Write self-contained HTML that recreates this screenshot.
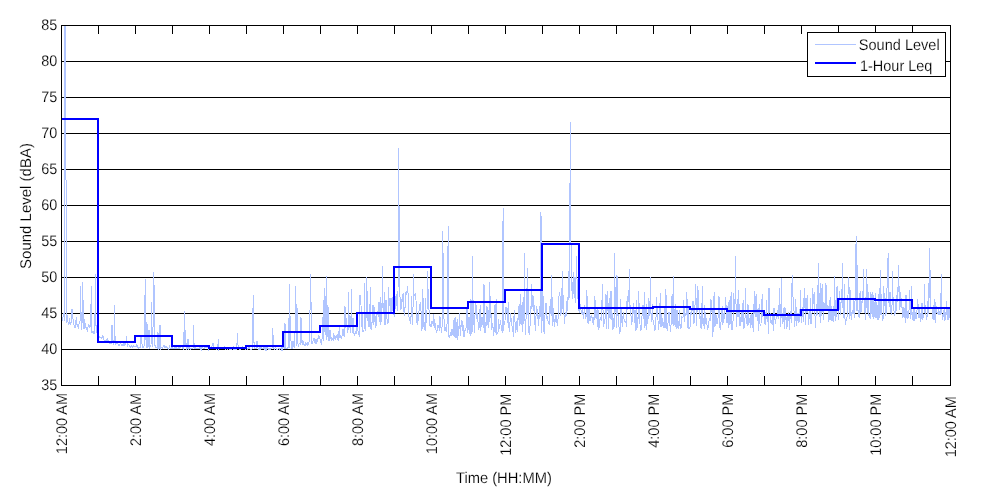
<!DOCTYPE html>
<html><head><meta charset="utf-8"><title>Sound Level</title>
<style>
html,body{margin:0;padding:0;background:#fff;}
body{width:1000px;height:500px;overflow:hidden;}
svg{display:block;}
text{font-family:"Liberation Sans",sans-serif;font-size:15px;fill:#000;text-rendering:geometricPrecision;stroke:#fff;stroke-width:0.16px;}
</style></head><body>
<svg width="1000" height="500" viewBox="0 0 1000 500">
<rect x="0" y="0" width="1000" height="500" fill="#fff"/>
<defs><clipPath id="c"><rect x="61" y="25" width="890" height="361"/></clipPath></defs>
<g fill="#000" shape-rendering="crispEdges"><rect x="61" y="349" width="890" height="1"/><rect x="61" y="313" width="890" height="1"/><rect x="61" y="277" width="890" height="1"/><rect x="61" y="241" width="890" height="1"/><rect x="61" y="205" width="890" height="1"/><rect x="61" y="169" width="890" height="1"/><rect x="61" y="133" width="890" height="1"/><rect x="61" y="97" width="890" height="1"/><rect x="61" y="61" width="890" height="1"/></g>
<g clip-path="url(#c)">
<polyline points="61.5,320.7 62.1,320.6 62.7,318.8 63.4,314.5 64.0,313.3 64.4,320.5 65.0,-30.0 66.7,322.5 67.1,314.6 67.7,321.8 68.3,322.3 68.9,324.9 69.5,318.5 70.1,323.1 70.8,324.3 71.4,320.2 72.0,309.0 72.6,318.7 73.2,319.2 73.8,324.1 74.5,327.6 75.1,327.5 75.7,324.1 76.3,317.1 76.9,324.3 77.6,324.2 78.2,328.7 78.8,325.7 79.4,322.0 80.0,322.3 80.4,286.0 81.3,329.9 81.9,321.8 82.4,282.0 83.1,328.9 83.5,300.0 84.3,328.8 85.0,322.6 85.6,326.7 86.2,327.7 86.8,328.5 87.4,331.7 88.0,327.3 88.7,325.4 89.3,328.4 89.9,325.1 90.5,327.1 91.4,286.0 91.8,333.2 92.4,331.3 93.0,331.2 93.6,333.0 94.2,331.7 94.8,334.4 95.4,274.0 96.1,332.8 96.7,324.8 97.3,329.0 97.9,331.5 98.5,334.5 99.2,336.7 99.8,337.3 100.4,337.3 101.0,338.1 101.6,338.1 102.2,337.4 102.9,334.9 103.5,339.1 104.1,340.0 104.7,340.8 105.3,340.9 106.0,340.9 106.6,340.8 107.2,337.7 107.8,342.1 108.4,341.4 109.0,343.1 109.7,343.7 110.3,343.2 110.9,343.2 111.5,343.0 112.0,325.0 112.7,342.0 113.4,340.8 114.0,345.3 114.4,305.0 115.2,344.9 115.8,344.2 116.4,341.2 117.1,344.1 117.7,343.2 118.3,345.2 118.9,345.1 119.5,345.2 120.1,343.4 120.8,343.6 121.4,344.7 122.0,345.6 122.6,344.8 123.2,345.3 123.9,342.1 124.5,346.3 125.1,341.4 125.7,345.1 126.4,336.0 126.9,342.3 127.6,346.9 128.2,344.7 128.8,344.6 129.4,345.7 130.0,347.2 130.6,347.0 131.3,346.0 131.9,345.4 132.5,347.4 133.1,346.8 133.7,346.0 134.3,346.9 135.0,346.6 135.6,346.8 136.2,346.2 136.8,344.0 137.4,347.2 138.1,347.3 138.7,348.1 139.3,347.4 139.9,347.0 140.5,347.6 141.0,336.0 141.8,342.6 142.4,345.6 143.0,347.8 143.6,346.9 144.2,345.7 144.6,312.0 145.4,279.0 146.1,348.3 147.0,322.0 147.3,347.6 147.9,347.4 148.5,345.7 149.0,330.0 149.8,348.5 150.4,345.4 151.0,345.8 151.4,302.0 152.3,346.8 152.9,344.8 153.4,272.0 154.4,293.0 154.7,345.0 155.3,345.7 156.0,348.2 156.6,347.8 157.2,348.3 158.0,332.0 158.4,349.0 159.0,349.2 159.7,347.0 160.0,325.0 160.9,348.5 161.5,347.4 162.1,347.6 162.7,348.6 163.4,345.7 164.0,344.7 164.6,347.3 165.2,346.7 165.8,347.6 166.5,346.7 167.1,347.6 167.7,348.8 168.3,349.2 168.9,348.6 169.5,345.5 170.2,348.8 170.8,348.8 171.4,348.4 172.0,346.7 172.6,348.9 173.2,348.8 173.9,349.0 174.5,347.2 175.1,348.6 175.7,347.0 176.3,347.9 176.9,348.8 177.6,348.6 178.2,348.3 178.8,345.8 179.4,348.6 180.0,345.9 180.7,347.6 181.3,346.9 181.9,346.6 182.5,348.5 183.1,348.2 183.7,349.0 184.4,311.0 185.0,345.9 185.6,330.0 186.2,349.1 186.8,348.9 187.4,348.8 188.0,339.0 188.7,348.4 189.3,347.1 189.9,348.8 190.5,349.1 191.1,348.6 191.8,348.1 192.4,348.7 193.0,349.2 193.4,325.0 194.2,348.6 194.8,348.0 195.5,347.7 196.1,348.9 196.7,348.7 197.3,348.5 197.9,348.1 198.6,348.5 199.2,347.9 199.8,348.5 200.4,349.4 201.0,346.9 201.6,349.1 202.3,346.9 202.9,347.4 203.5,348.9 204.1,349.1 204.7,348.8 205.3,346.2 206.0,348.2 206.6,346.5 207.2,347.8 207.8,347.3 208.4,349.7 209.0,348.3 209.7,348.9 210.3,347.8 210.9,347.0 211.5,349.2 212.1,345.7 213.0,343.0 213.4,346.4 214.0,349.2 214.6,348.0 215.2,348.5 215.8,348.8 216.5,349.0 217.1,348.6 217.7,349.0 218.4,339.0 218.9,349.3 219.5,348.5 220.2,348.6 220.8,348.2 221.4,347.6 222.0,348.4 222.6,348.9 223.2,348.8 223.9,346.9 224.5,346.6 225.1,349.6 225.7,347.8 226.3,347.8 227.0,349.1 227.6,349.1 228.2,349.0 228.8,348.1 229.4,349.0 230.0,348.0 230.7,349.6 231.3,347.9 231.9,349.4 232.5,348.5 233.1,346.9 233.7,349.4 234.4,349.3 235.0,348.3 235.6,349.4 236.2,348.5 236.8,349.3 237.4,333.0 238.1,347.0 238.7,348.7 239.3,349.3 239.9,349.0 240.5,349.5 241.2,349.1 241.8,347.8 242.4,346.8 243.0,348.7 243.6,348.3 244.2,348.6 244.9,349.0 245.5,349.1 246.1,349.0 246.7,348.1 247.3,349.5 247.9,348.6 248.6,348.3 249.2,346.9 249.8,348.7 250.4,349.7 251.0,348.7 251.6,349.5 252.3,348.0 252.6,322.0 253.4,295.0 254.1,348.6 254.7,348.4 255.4,348.4 256.0,348.8 256.6,347.5 257.0,341.0 257.8,347.8 258.4,349.0 259.1,349.3 259.7,347.8 260.3,348.7 260.9,347.1 261.5,346.2 262.1,349.1 262.8,348.2 263.4,348.7 264.0,346.9 264.6,348.8 265.2,349.7 265.8,346.4 266.5,349.7 267.1,348.9 267.7,347.4 268.3,349.1 268.9,348.2 269.6,349.3 270.2,348.9 270.8,349.1 271.4,348.4 272.0,348.5 272.4,328.0 273.4,340.0 273.9,348.6 274.5,349.5 275.1,347.7 275.7,347.7 276.3,349.0 277.0,349.4 277.6,349.6 278.2,348.8 278.8,348.5 279.4,349.2 280.0,348.4 280.7,348.3 281.3,349.7 281.9,347.0 282.5,349.0 283.1,346.4 283.8,347.3 284.4,349.3 285.0,323.0 285.6,348.6 286.2,349.0 286.8,348.3 287.5,348.5 288.1,347.4 288.7,347.4 289.4,284.0 289.9,348.2 290.4,316.0 291.2,348.5 291.8,342.7 292.4,348.8 293.0,341.3 293.6,345.1 294.2,347.2 294.9,346.8 295.4,286.0 296.4,315.0 296.7,345.8 297.4,308.0 297.9,343.4 298.6,346.7 299.2,343.4 299.8,343.0 300.4,344.7 301.0,317.0 301.7,342.7 302.3,339.7 302.9,345.3 303.5,341.1 304.1,346.0 304.7,344.7 305.4,343.1 306.0,345.4 306.6,344.1 307.2,345.1 307.8,342.2 308.4,344.5 309.1,341.4 309.7,341.1 310.4,274.0 311.0,300.0 311.5,341.2 312.1,344.0 312.8,342.5 313.4,338.0 314.0,338.1 314.6,342.4 315.2,342.9 315.9,339.0 316.5,343.7 317.1,338.1 317.7,341.6 318.3,335.2 318.9,337.9 319.6,335.9 320.2,340.6 320.8,342.1 321.4,343.5 322.0,339.3 322.6,334.4 323.4,300.0 323.9,341.4 324.6,288.0 325.1,335.4 325.6,310.0 326.6,276.0 327.0,339.5 327.4,305.0 328.4,308.0 328.8,340.3 329.4,340.2 330.0,330.0 330.7,336.6 331.3,340.9 331.9,337.3 332.5,339.5 333.1,340.0 333.8,333.4 334.4,338.7 335.0,337.8 335.6,338.9 336.2,335.1 336.8,337.3 337.5,334.5 338.1,340.6 338.7,335.6 339.3,327.5 339.9,338.4 340.5,336.5 341.2,338.4 341.8,336.6 342.4,335.8 343.0,329.2 343.6,334.4 344.3,337.3 345.0,306.0 345.5,328.4 346.0,318.0 346.7,324.8 347.3,326.5 348.0,333.1 348.4,292.0 349.2,327.9 350.0,315.0 350.4,332.8 351.0,327.6 351.4,289.0 352.3,333.3 353.0,318.0 353.5,327.2 354.1,335.5 354.7,333.5 355.4,333.8 356.0,330.9 356.6,333.8 357.2,322.8 357.8,329.6 358.5,333.9 359.1,332.5 359.7,336.5 360.0,295.0 361.0,305.0 361.5,327.1 362.2,313.1 362.8,332.1 363.4,330.6 364.0,330.9 364.4,283.0 365.2,322.7 365.9,331.4 366.4,277.0 367.4,300.0 367.7,321.2 368.3,314.3 368.9,327.4 369.6,322.6 370.4,287.0 370.8,328.3 371.4,329.1 372.0,322.0 372.6,322.2 373.0,305.0 373.9,325.3 374.5,307.4 375.1,316.9 375.7,328.2 376.4,322.2 377.0,312.0 377.6,311.4 378.2,317.1 379.0,302.0 379.4,306.5 380.1,324.6 380.6,297.0 381.3,321.5 381.9,314.8 382.4,266.0 383.1,314.0 383.8,307.3 384.6,292.0 385.0,324.9 385.6,322.1 386.0,300.0 386.8,317.4 387.5,323.7 388.1,323.1 388.4,287.0 389.3,305.6 390.0,298.0 390.6,314.2 391.2,312.4 391.8,299.0 392.4,297.5 393.0,311.3 393.6,314.6 394.3,315.8 394.9,310.3 395.5,305.7 396.1,294.5 396.7,299.7 397.3,311.1 398.0,295.2 398.5,148.0 399.1,216.0 399.8,290.0 400.4,309.4 401.0,309.4 401.7,303.2 402.3,294.4 402.9,302.2 403.5,292.7 404.1,315.5 404.8,307.7 405.4,307.1 406.0,291.8 406.6,294.8 407.2,289.5 407.8,286.3 408.5,308.0 409.1,318.3 409.7,318.6 410.3,324.1 410.9,321.6 411.5,296.5 412.2,317.3 412.8,325.4 413.4,274.0 414.0,296.1 414.6,295.0 415.2,293.3 416.0,300.0 416.5,323.3 417.1,313.9 417.7,325.1 418.3,317.2 419.0,310.9 419.6,308.0 420.2,302.1 420.8,305.5 421.4,320.1 422.0,331.2 422.4,289.0 423.3,303.0 423.9,326.5 424.5,322.4 425.1,330.8 425.7,298.4 426.4,323.4 427.0,312.1 427.4,271.0 428.4,300.0 428.8,308.5 429.4,312.6 430.1,327.4 430.7,324.6 431.3,327.2 431.9,321.7 432.5,321.3 433.2,325.6 433.8,314.3 434.4,328.4 435.0,322.6 435.6,323.9 436.2,332.7 436.9,332.9 437.5,325.4 438.1,325.2 438.7,326.0 439.3,330.7 439.9,316.3 440.6,321.9 441.2,331.4 441.8,332.1 442.4,318.0 442.8,231.0 443.6,316.4 444.3,321.4 444.9,331.1 445.5,328.6 446.1,327.0 446.7,331.9 447.4,314.5 448.2,226.0 448.6,334.1 449.2,338.1 449.8,335.5 450.4,333.3 451.1,336.1 451.7,329.2 452.3,335.0 452.9,329.1 453.5,336.1 454.1,317.8 454.8,336.9 455.4,316.9 456.0,338.0 456.6,329.2 457.2,319.2 457.8,340.2 458.5,325.8 459.1,329.2 459.7,312.8 460.3,336.2 460.9,327.5 461.6,320.1 462.2,330.5 462.8,320.6 463.4,333.4 464.0,337.0 464.6,331.4 465.3,329.8 465.9,330.9 466.5,317.5 467.1,307.3 467.7,333.4 468.3,327.3 469.0,317.1 469.6,330.0 470.2,335.8 470.8,299.5 471.4,301.8 472.0,333.7 472.5,256.0 473.3,325.2 473.9,321.1 474.5,333.1 475.1,311.6 475.7,301.4 476.4,310.4 477.0,318.6 477.6,312.6 478.2,326.7 478.8,329.7 479.5,309.4 480.1,331.2 480.7,305.4 481.3,327.1 481.9,324.4 482.5,316.6 483.2,327.5 484.0,284.0 484.4,305.6 485.0,333.2 485.6,321.6 486.2,326.2 486.9,306.2 487.5,312.5 488.1,327.4 488.7,325.3 489.6,282.0 489.9,321.9 490.6,296.2 491.2,321.7 491.8,330.0 492.4,323.1 493.0,326.5 493.7,336.3 494.3,327.4 494.9,305.3 495.5,332.8 496.1,299.4 496.7,334.0 497.4,332.8 498.0,332.0 498.6,319.0 499.2,328.4 499.8,326.6 500.4,320.0 501.1,325.4 501.7,328.4 502.3,332.9 503.1,208.0 503.5,330.5 504.1,323.1 504.8,325.3 505.4,312.1 506.0,307.3 506.6,312.7 507.2,308.3 507.9,322.5 508.5,301.8 509.1,331.6 509.7,331.9 510.3,313.2 510.9,317.3 511.6,324.3 512.2,327.3 512.8,328.9 513.4,336.5 514.0,315.7 514.6,310.3 515.3,330.2 515.9,332.6 516.5,320.9 517.1,331.6 517.7,330.9 518.3,305.9 519.0,319.5 519.6,326.1 520.2,294.3 520.8,323.3 521.4,325.3 522.1,302.1 522.7,332.3 523.3,297.0 523.9,324.4 524.4,253.0 525.1,331.4 525.8,335.3 526.4,287.8 527.0,316.2 527.4,268.0 528.2,297.3 528.8,331.9 529.5,334.6 530.1,324.7 530.7,318.2 531.6,284.0 531.9,308.6 532.5,294.7 533.2,311.3 533.8,296.1 534.4,320.7 535.0,324.7 535.6,331.1 536.3,306.4 536.9,306.9 537.5,318.1 538.1,319.4 538.7,325.7 539.3,306.5 540.0,318.5 540.7,212.0 541.2,332.9 541.6,216.0 542.4,320.9 543.0,294.9 543.7,331.3 544.3,332.4 544.9,317.1 545.5,308.3 546.1,302.6 546.7,318.1 547.4,317.2 548.0,320.8 548.6,321.3 549.2,324.7 549.8,308.2 550.5,299.2 551.1,316.3 551.4,275.0 552.3,306.3 552.9,325.6 553.5,307.8 554.2,323.1 554.8,326.6 555.4,315.1 556.0,322.0 556.6,314.8 557.2,326.2 557.9,320.7 558.5,311.6 559.1,293.6 559.7,292.0 560.3,299.0 560.9,316.0 561.6,305.8 562.4,271.0 562.8,308.8 563.4,295.3 564.0,314.9 564.6,324.4 565.3,312.5 565.9,316.6 566.5,311.8 567.1,299.8 567.7,310.7 568.6,271.0 569.0,299.9 569.6,250.0 570.4,122.0 571.1,262.0 571.4,291.3 572.1,281.9 572.7,299.1 573.3,288.5 573.9,271.7 574.5,297.5 575.1,292.4 575.8,303.4 576.2,256.0 577.0,278.6 577.6,285.7 578.2,304.6 578.8,310.3 579.5,312.7 580.1,306.5 580.7,304.6 581.3,314.4 581.9,310.3 582.6,307.4 583.2,318.9 583.8,315.1 584.4,305.0 585.0,313.7 585.6,317.7 586.3,316.2 586.9,290.5 587.5,319.2 588.1,323.9 588.7,309.3 589.3,308.6 590.0,321.0 590.6,316.6 591.2,315.6 591.8,315.1 592.4,322.6 593.0,317.2 593.7,324.7 594.3,316.4 594.9,296.1 595.5,317.7 596.1,310.1 596.8,315.4 597.4,327.0 598.0,309.0 598.6,329.7 599.2,326.6 599.8,319.8 600.5,317.6 601.1,320.7 601.7,317.5 602.3,283.7 602.9,305.6 603.5,326.9 604.2,319.9 604.8,323.7 605.4,309.7 606.0,294.4 606.6,328.7 607.2,290.8 607.9,306.2 608.5,328.9 609.1,298.1 609.7,317.5 610.3,318.0 611.0,290.6 611.6,295.9 612.2,329.9 612.8,312.6 613.4,328.0 614.0,328.7 614.6,253.0 615.3,311.6 615.9,306.6 616.5,327.8 617.0,275.0 617.7,315.7 618.4,313.6 619.0,326.9 619.6,334.3 620.2,330.7 620.8,298.6 621.4,322.9 622.1,316.5 622.7,326.8 623.3,311.6 623.9,318.3 624.5,320.5 625.2,322.7 625.8,321.4 626.4,326.5 627.0,301.1 627.6,310.4 628.2,290.3 628.9,301.7 629.4,269.0 630.1,315.1 630.7,305.2 631.3,325.2 631.9,317.9 632.6,322.0 633.2,302.7 633.8,308.3 634.4,323.0 635.0,309.8 635.6,331.4 636.3,300.5 636.9,330.2 637.5,316.6 638.1,318.6 638.7,290.8 639.4,318.6 640.0,324.4 640.6,330.6 641.2,329.9 641.8,322.9 642.4,304.8 643.1,317.8 643.7,318.4 644.3,292.0 644.9,327.5 645.5,322.3 646.1,304.5 646.8,329.8 647.4,315.1 648.0,320.2 648.6,297.9 649.2,316.3 649.8,314.1 650.4,277.0 651.1,318.9 651.7,321.8 652.3,304.4 652.9,318.7 653.5,324.5 654.2,325.0 654.8,330.8 655.4,328.6 656.0,317.2 656.6,297.1 657.3,315.8 657.9,318.4 658.5,329.5 659.1,322.7 659.7,313.5 660.3,292.8 661.0,327.2 661.6,314.4 662.2,319.9 662.8,325.6 663.4,322.2 664.0,328.2 664.7,306.7 665.3,328.3 665.9,289.5 666.5,318.1 667.1,330.6 667.7,325.9 668.4,319.0 669.0,312.0 669.6,315.5 670.2,330.2 670.8,331.6 671.5,309.4 672.1,293.9 672.7,324.1 673.4,276.0 673.9,325.8 674.5,322.6 675.2,303.7 675.8,324.9 676.4,329.2 677.0,309.9 677.6,327.5 678.2,321.5 678.9,328.6 679.5,309.9 680.1,328.6 680.7,325.8 681.3,327.7 681.9,317.1 682.6,317.4 683.2,316.3 683.8,299.8 684.4,322.1 685.0,313.0 685.7,316.3 686.3,314.3 686.9,292.2 687.5,328.2 688.1,306.7 688.7,329.3 689.4,327.7 690.0,327.5 690.6,318.5 691.2,308.9 691.8,315.3 692.4,303.6 693.1,300.6 693.7,324.0 694.3,321.7 694.9,310.5 695.5,283.6 696.1,300.5 696.8,326.4 697.4,285.8 698.0,292.5 698.6,289.7 699.2,319.2 699.9,314.0 700.5,322.6 701.1,328.9 701.7,323.1 702.3,286.5 702.9,324.4 703.6,318.2 704.2,329.2 704.8,304.7 705.4,324.1 706.0,317.6 706.6,322.4 707.3,326.8 707.9,329.6 708.5,323.3 709.1,320.7 709.7,318.4 710.3,321.0 711.0,299.2 711.6,312.1 712.2,309.1 712.8,336.8 713.4,321.9 714.1,292.0 714.7,326.9 715.3,325.0 715.9,313.6 716.5,322.6 717.1,323.6 717.8,318.7 718.4,316.5 719.0,296.1 719.6,327.3 720.2,328.5 720.8,322.9 721.5,322.5 722.1,306.5 722.7,325.0 723.3,320.8 723.9,312.9 724.5,318.5 725.2,307.4 725.8,296.6 726.4,322.7 727.0,305.5 727.6,310.9 728.2,328.1 728.9,301.8 729.5,325.3 730.1,296.2 730.7,323.8 731.3,292.5 732.0,329.5 732.6,329.0 733.2,317.9 733.8,292.7 734.4,310.4 735.0,306.6 735.4,256.0 736.3,326.6 736.9,321.1 737.5,299.0 738.1,317.1 738.7,289.6 739.4,322.0 740.0,326.0 740.6,316.6 741.2,322.1 741.8,310.5 742.4,321.8 743.1,300.3 743.7,329.1 744.3,327.4 744.9,325.0 745.5,287.8 746.2,323.9 746.8,317.1 747.4,325.6 748.0,304.0 748.6,325.3 749.2,318.6 749.9,321.7 750.5,328.3 751.1,313.4 751.7,322.4 752.3,328.2 752.9,313.9 753.6,332.3 754.2,290.8 754.8,314.0 755.4,295.8 756.0,317.3 756.6,294.5 757.3,320.5 757.9,308.8 758.5,330.7 759.1,304.3 759.7,322.6 760.4,326.2 761.0,323.8 761.6,312.5 762.2,293.8 762.8,316.7 763.4,309.7 764.1,313.5 764.7,323.0 765.3,323.8 765.9,315.2 766.5,300.1 767.1,321.9 767.8,313.6 768.4,334.3 769.0,287.7 769.6,301.8 770.2,318.4 770.8,323.1 771.5,319.9 772.1,325.1 772.7,315.6 773.3,330.8 773.9,307.8 774.6,309.9 775.2,323.7 775.8,319.7 776.4,317.3 777.0,315.1 777.6,316.4 778.3,305.2 778.9,319.4 779.5,288.4 780.1,320.0 780.7,326.5 781.4,278.0 782.0,317.5 782.6,323.5 783.2,308.5 783.8,318.8 784.4,328.8 785.0,307.5 785.7,320.4 786.3,316.8 786.9,328.7 787.5,320.1 788.1,312.5 788.8,315.6 789.4,330.2 790.0,314.6 790.6,311.3 791.2,322.7 791.8,287.6 792.4,275.0 793.1,299.4 793.7,304.8 794.3,317.2 794.9,326.8 795.5,299.5 796.2,309.3 796.8,325.6 797.4,312.6 798.0,320.1 798.6,323.1 799.2,309.0 799.9,322.2 800.5,290.0 801.1,321.2 801.7,322.0 802.3,307.3 803.0,316.5 803.6,321.5 804.2,288.3 804.8,299.3 805.4,325.2 806.0,298.1 806.7,313.1 807.3,295.3 807.9,309.7 808.5,325.3 809.1,317.8 809.7,318.4 810.4,297.7 811.0,324.1 811.6,320.3 812.2,310.1 812.8,287.8 813.4,303.7 814.1,292.1 814.7,303.6 815.3,327.8 815.9,319.7 816.5,303.6 817.1,314.5 817.8,297.0 818.4,263.0 819.0,309.1 819.6,316.9 820.2,282.6 820.9,322.9 821.5,288.1 822.1,312.0 822.7,284.3 823.3,319.9 823.9,302.5 824.6,307.5 825.2,310.0 826.0,283.0 826.4,309.4 827.0,305.3 827.6,309.2 828.3,307.8 828.9,320.0 829.5,319.0 830.1,297.3 830.7,320.0 831.3,305.8 832.0,321.3 832.6,319.2 833.2,307.7 833.8,322.0 834.4,276.0 835.1,321.2 835.7,314.6 836.3,287.4 836.9,316.5 837.5,286.2 838.1,301.7 838.8,319.9 839.4,291.2 840.0,307.9 840.6,314.7 841.2,296.6 841.8,303.0 842.4,263.0 843.1,314.2 843.7,318.1 844.3,284.1 844.9,317.5 845.5,324.6 846.2,319.5 846.8,319.5 847.4,312.7 848.0,295.3 848.4,277.0 849.3,291.2 849.9,319.2 850.5,290.5 851.1,320.3 851.7,313.1 852.3,311.5 853.0,314.3 853.6,299.9 854.2,314.9 854.8,318.1 855.4,270.0 856.2,236.0 856.7,311.2 857.4,265.0 857.9,310.9 858.5,310.8 859.1,318.2 859.7,295.2 860.4,290.7 861.0,312.5 861.6,305.6 862.2,298.8 862.8,303.2 863.4,269.0 864.1,302.6 864.7,313.0 865.3,296.9 865.9,320.0 866.4,269.0 867.2,312.8 867.8,283.6 868.4,308.6 869.0,316.4 869.6,314.5 870.2,319.3 870.9,292.5 871.5,300.0 872.1,316.9 872.7,292.1 873.3,297.9 873.9,319.3 874.6,301.7 875.2,317.5 875.8,293.5 876.4,318.1 877.0,304.5 877.7,320.4 878.3,293.7 878.9,319.5 879.5,312.6 880.4,270.0 880.7,314.8 881.4,293.6 882.0,315.3 882.6,319.8 883.2,318.4 883.8,285.7 884.4,306.0 885.1,297.6 885.7,316.0 886.3,311.9 886.9,294.5 887.4,265.0 888.4,253.0 888.8,300.2 889.4,307.3 890.0,291.8 890.6,313.0 891.2,308.5 891.9,315.2 892.4,271.0 893.1,300.8 893.7,305.4 894.3,316.1 894.9,311.1 895.6,314.3 896.2,295.2 896.8,310.9 897.4,286.6 898.0,294.2 898.4,265.0 899.3,295.2 899.9,310.1 900.5,292.1 901.1,302.3 901.7,297.8 902.3,317.7 903.0,306.6 903.6,314.7 904.2,317.8 904.8,307.9 905.4,323.3 906.0,295.0 906.7,315.6 907.3,319.3 907.9,310.9 908.5,318.1 909.1,308.6 909.8,290.0 910.4,318.9 911.0,316.6 911.4,286.0 912.2,319.9 912.8,318.2 913.5,319.6 914.1,306.8 914.7,321.0 915.3,316.7 915.9,311.8 916.5,318.9 917.2,306.8 917.8,299.4 918.4,313.5 919.0,318.1 919.6,307.3 920.2,315.3 920.9,322.0 921.5,305.7 922.1,302.8 922.7,319.8 923.3,316.1 924.0,314.5 924.4,284.0 925.2,311.0 925.8,312.0 926.4,320.4 927.0,316.7 927.7,315.2 928.4,283.0 928.9,314.1 929.4,248.0 930.4,283.0 930.7,307.4 931.4,307.4 932.0,308.9 932.6,315.9 933.2,319.9 933.8,308.3 934.4,299.2 935.1,322.8 935.7,301.9 936.3,309.9 936.9,312.3 937.5,312.4 938.2,315.0 938.8,309.4 939.4,314.4 940.0,315.3 940.6,313.6 941.4,274.0 941.9,312.9 942.5,318.4 943.1,317.1 943.7,310.7 944.3,309.6 944.9,321.4 945.6,313.2 946.2,314.1 946.8,301.5 947.4,317.7 948.0,320.3 948.6,310.4 949.3,306.6 949.9,318.0 950.5,316.0" fill="none" stroke="#b0c5ff" stroke-width="1" stroke-linejoin="miter" shape-rendering="crispEdges"/>
<path d="M61,119 L98,119 L98,342 L135,342 L135,336 L172,336 L172,346 L209,346 L209,348 L246,348 L246,346 L283,346 L283,332 L320,332 L320,326 L357,326 L357,313 L394,313 L394,267 L431,267 L431,308 L468,308 L468,302 L505,302 L505,290 L542,290 L542,244 L579,244 L579,308 L616,308 L616,308 L653,308 L653,307 L690,307 L690,309 L727,309 L727,311 L764,311 L764,315 L801,315 L801,310 L838,310 L838,299 L875,299 L875,300 L912,300 L912,308 L950,308" fill="none" stroke="#0000ff" stroke-width="2" stroke-linejoin="miter" shape-rendering="crispEdges"/>
</g>
<g fill="#000" shape-rendering="crispEdges">
<rect x="61" y="25" width="890" height="1"/><rect x="61" y="385" width="890" height="1"/>
<rect x="61" y="25" width="1" height="361"/><rect x="950" y="25" width="1" height="361"/>
<rect x="61" y="25" width="1" height="9"/><rect x="61" y="376" width="1" height="10"/><rect x="98" y="25" width="1" height="9"/><rect x="98" y="376" width="1" height="10"/><rect x="135" y="25" width="1" height="9"/><rect x="135" y="376" width="1" height="10"/><rect x="172" y="25" width="1" height="9"/><rect x="172" y="376" width="1" height="10"/><rect x="209" y="25" width="1" height="9"/><rect x="209" y="376" width="1" height="10"/><rect x="246" y="25" width="1" height="9"/><rect x="246" y="376" width="1" height="10"/><rect x="283" y="25" width="1" height="9"/><rect x="283" y="376" width="1" height="10"/><rect x="320" y="25" width="1" height="9"/><rect x="320" y="376" width="1" height="10"/><rect x="357" y="25" width="1" height="9"/><rect x="357" y="376" width="1" height="10"/><rect x="394" y="25" width="1" height="9"/><rect x="394" y="376" width="1" height="10"/><rect x="431" y="25" width="1" height="9"/><rect x="431" y="376" width="1" height="10"/><rect x="468" y="25" width="1" height="9"/><rect x="468" y="376" width="1" height="10"/><rect x="505" y="25" width="1" height="9"/><rect x="505" y="376" width="1" height="10"/><rect x="542" y="25" width="1" height="9"/><rect x="542" y="376" width="1" height="10"/><rect x="579" y="25" width="1" height="9"/><rect x="579" y="376" width="1" height="10"/><rect x="616" y="25" width="1" height="9"/><rect x="616" y="376" width="1" height="10"/><rect x="653" y="25" width="1" height="9"/><rect x="653" y="376" width="1" height="10"/><rect x="690" y="25" width="1" height="9"/><rect x="690" y="376" width="1" height="10"/><rect x="727" y="25" width="1" height="9"/><rect x="727" y="376" width="1" height="10"/><rect x="764" y="25" width="1" height="9"/><rect x="764" y="376" width="1" height="10"/><rect x="801" y="25" width="1" height="9"/><rect x="801" y="376" width="1" height="10"/><rect x="838" y="25" width="1" height="9"/><rect x="838" y="376" width="1" height="10"/><rect x="875" y="25" width="1" height="9"/><rect x="875" y="376" width="1" height="10"/><rect x="912" y="25" width="1" height="9"/><rect x="912" y="376" width="1" height="10"/><rect x="950" y="25" width="1" height="9"/><rect x="950" y="376" width="1" height="10"/>
</g>
<g shape-rendering="crispEdges">
<rect x="807.5" y="32.5" width="138" height="44" fill="#fff" stroke="#000" stroke-width="1"/>
<rect x="815" y="44" width="41" height="1" fill="#b0c5ff"/>
<rect x="815" y="62" width="41" height="2" fill="#0000ff"/>
</g>
<g opacity="0.999">
<g><text transform="translate(57.3,390.3) scale(0.96,1.03)" text-anchor="end">35</text><text transform="translate(57.3,354.3) scale(0.96,1.03)" text-anchor="end">40</text><text transform="translate(57.3,318.3) scale(0.96,1.03)" text-anchor="end">45</text><text transform="translate(57.3,282.3) scale(0.96,1.03)" text-anchor="end">50</text><text transform="translate(57.3,246.3) scale(0.96,1.03)" text-anchor="end">55</text><text transform="translate(57.3,210.3) scale(0.96,1.03)" text-anchor="end">60</text><text transform="translate(57.3,174.3) scale(0.96,1.03)" text-anchor="end">65</text><text transform="translate(57.3,138.3) scale(0.96,1.03)" text-anchor="end">70</text><text transform="translate(57.3,102.3) scale(0.96,1.03)" text-anchor="end">75</text><text transform="translate(57.3,66.3) scale(0.96,1.03)" text-anchor="end">80</text><text transform="translate(57.3,30.3) scale(0.96,1.03)" text-anchor="end">85</text></g>
<g><text transform="translate(66.9,393.0) rotate(-90) scale(0.965,1.03)" text-anchor="end">12:00 AM</text><text transform="translate(140.9,393.0) rotate(-90) scale(0.965,1.03)" text-anchor="end">2:00 AM</text><text transform="translate(214.9,393.0) rotate(-90) scale(0.965,1.03)" text-anchor="end">4:00 AM</text><text transform="translate(288.9,393.0) rotate(-90) scale(0.965,1.03)" text-anchor="end">6:00 AM</text><text transform="translate(362.9,393.0) rotate(-90) scale(0.965,1.03)" text-anchor="end">8:00 AM</text><text transform="translate(436.9,393.0) rotate(-90) scale(0.965,1.03)" text-anchor="end">10:00 AM</text><text transform="translate(510.9,393.8) rotate(-90) scale(0.965,1.03)" text-anchor="end">12:00 PM</text><text transform="translate(584.9,393.8) rotate(-90) scale(0.965,1.03)" text-anchor="end">2:00 PM</text><text transform="translate(658.9,393.8) rotate(-90) scale(0.965,1.03)" text-anchor="end">4:00 PM</text><text transform="translate(732.9,393.8) rotate(-90) scale(0.965,1.03)" text-anchor="end">6:00 PM</text><text transform="translate(806.9,393.8) rotate(-90) scale(0.965,1.03)" text-anchor="end">8:00 PM</text><text transform="translate(880.9,393.8) rotate(-90) scale(0.965,1.03)" text-anchor="end">10:00 PM</text><text transform="translate(955.9,396.2) rotate(-90) scale(0.965,1.03)" text-anchor="end">12:00 AM</text></g>
<text transform="translate(31.2,206) rotate(-90) scale(1,1.03)" text-anchor="middle">Sound Level (dBA)</text>
<text transform="translate(503.9,483) scale(0.98,1.03)" text-anchor="middle">Time (HH:MM)</text>
<text transform="translate(858.8,50) scale(0.97,1.03)">Sound Level</text>
<text transform="translate(860.0,71) scale(0.965,1.03)">1-Hour Leq</text>
</g>
</svg>
</body></html>
